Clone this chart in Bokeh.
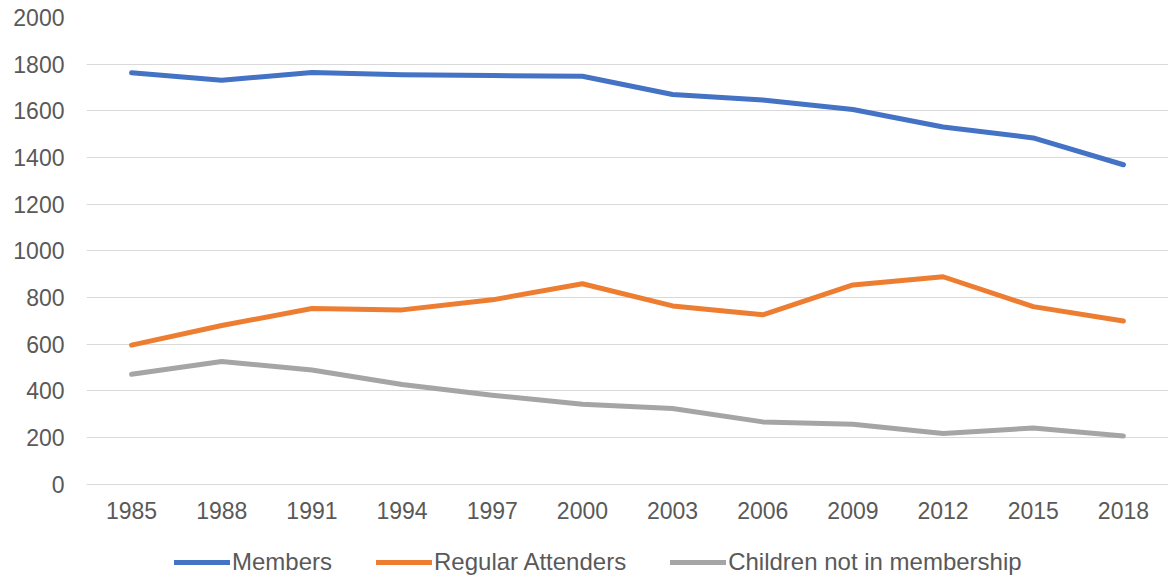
from bokeh.plotting import figure
from bokeh.models import FixedTicker, Legend, LegendItem, Range1d
from bokeh.core.properties import value
from bokeh.embed import file_html
from bokeh.resources import INLINE

years = [1985, 1988, 1991, 1994, 1997, 2000, 2003, 2006, 2009, 2012, 2015, 2018]
year_labels = [str(y) for y in years]
members = [1763, 1731, 1764, 1755, 1751, 1748, 1670, 1646, 1606, 1531, 1484, 1369]
regular_attenders = [596, 680, 753, 747, 790, 859, 764, 726, 854, 889, 761, 699]
children_not_members = [471, 526, 489, 427, 381, 343, 324, 267, 257, 217, 241, 207]
y_ticks = [0, 200, 400, 600, 800, 1000, 1200, 1400, 1600, 1800, 2000]

TEXT = "#595959"
FONT = "Liberation Sans"

p = figure(width=1168, height=581, output_backend="svg", toolbar_location=None,
           x_range=Range1d(1983.5, 2019.5), y_range=Range1d(-417, 2000),
           min_border_left=86, min_border_right=0, min_border_top=17, min_border_bottom=0)
p.outline_line_color = None
p.background_fill_color = "white"

r1 = p.line(years, members, line_color="#4472C4", line_width=5, line_cap="round", line_join="round")
r2 = p.line(years, regular_attenders, line_color="#ED7D31", line_width=5, line_cap="round", line_join="round")
r3 = p.line(years, children_not_members, line_color="#A5A5A5", line_width=5, line_cap="round", line_join="round")

# category (year) labels beneath the zero line
p.text(x=years, y=0, text=year_labels, text_font=value(FONT), text_font_size="23px",
       text_color=TEXT, text_align="center", text_baseline="middle", y_offset=26)

p.xaxis.visible = False
p.yaxis.ticker = FixedTicker(ticks=y_ticks)
p.xgrid.grid_line_color = None
p.ygrid.ticker = FixedTicker(ticks=y_ticks)
p.ygrid.grid_line_color = "#D9D9D9"
p.ygrid.grid_line_width = 1
p.yaxis.axis_line_color = None
p.yaxis.major_tick_line_color = None
p.yaxis.minor_tick_line_color = None
p.yaxis.major_label_text_font = FONT
p.yaxis.major_label_text_font_size = "23px"
p.yaxis.major_label_text_color = TEXT
p.yaxis.major_label_standoff = 16

legend = Legend(items=[LegendItem(label="Members", renderers=[r1]),
                       LegendItem(label="Regular Attenders", renderers=[r2]),
                       LegendItem(label="Children not in membership", renderers=[r3])],
                orientation="horizontal", location=(88, 5))
legend.label_text_font = FONT
legend.label_text_font_size = "24px"
legend.label_text_color = TEXT
legend.glyph_width = 56
legend.glyph_height = 20
legend.label_standoff = 2
legend.spacing = 44
legend.padding = 2
legend.margin = 0
legend.border_line_color = None
legend.background_fill_alpha = 0
p.add_layout(legend)

open("out.html", "w").write(file_html(p, INLINE))
